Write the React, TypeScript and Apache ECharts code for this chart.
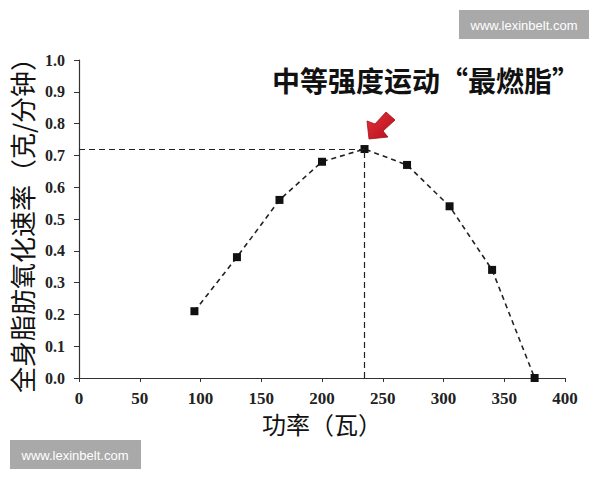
import React, { useEffect, useRef } from "react";
import * as echarts from "echarts";

const powerWatts = [95, 130, 165, 200, 235, 270, 305, 340, 375];
const fatOxidation = [0.21, 0.38, 0.56, 0.68, 0.72, 0.67, 0.54, 0.34, 0.0];
const xTicks = { min: 0, max: 400, interval: 50 };
const yTicks = { min: 0, max: 1, interval: 0.1 };
const titleText = "中等强度运动“最燃脂”";
const xName = "功率（瓦）";
const yName = "全身脂肪氧化速率（克/分钟）";
const watermark = "www.lexinbelt.com";

export default function App() {
  const ref = useRef<HTMLDivElement>(null);
  useEffect(() => {
    if (!ref.current) return;
    const chart = echarts.init(ref.current, undefined, { renderer: "svg" });
    const peakIdx = fatOxidation.indexOf(Math.max(...fatOxidation));
    const peakX = powerWatts[peakIdx];
    const peakY = fatOxidation[peakIdx];
    const serif = "'Liberation Serif', 'Times New Roman', serif";
    const cjk = "'Noto Sans CJK SC', 'Noto Sans', sans-serif";
    chart.setOption({
      animation: false,
      backgroundColor: "#ffffff",
      grid: { left: 77, right: 35, top: 60, bottom: 102 },
      xAxis: {
        type: "value",
        min: xTicks.min,
        max: xTicks.max,
        interval: xTicks.interval,
        name: xName,
        nameLocation: "middle",
        nameGap: 31,
        nameTextStyle: { fontFamily: cjk, fontSize: 24, color: "#111" },
        axisLine: { show: true, onZero: false, lineStyle: { color: "#333", width: 1.2 } },
        axisTick: { show: true, length: 4, lineStyle: { color: "#333" } },
        axisLabel: { margin: 12, fontFamily: serif, fontWeight: "bold", fontSize: 17, color: "#222" },
        splitLine: { show: false },
      },
      yAxis: {
        type: "value",
        min: yTicks.min,
        max: yTicks.max,
        interval: yTicks.interval,
        name: yName,
        nameLocation: "middle",
        nameGap: 45,
        nameRotate: 90,
        nameTextStyle: { fontFamily: cjk, fontSize: 26, color: "#111" },
        axisLine: { show: true, lineStyle: { color: "#333", width: 1.2 } },
        axisTick: { show: true, length: 5, lineStyle: { color: "#333" } },
        axisLabel: {
          margin: 14,
          fontFamily: serif,
          fontWeight: "bold",
          fontSize: 16,
          color: "#222",
          formatter: (v: number) => v.toFixed(1),
        },
        splitLine: { show: false },
      },
      series: [
        {
          type: "line",
          data: powerWatts.map((x, i) => [x, fatOxidation[i]]),
          symbol: "rect",
          symbolSize: 8,
          itemStyle: { color: "#111" },
          lineStyle: { color: "#222", width: 1.6, type: [5, 4] },
          markLine: {
            silent: true,
            symbol: "none",
            label: { show: false },
            lineStyle: { color: "#222", width: 1.2, type: [6, 4] },
            data: [
              [{ coord: [0, peakY] }, { coord: [peakX, peakY] }],
              [{ coord: [peakX, 0] }, { coord: [peakX, peakY] }],
            ],
          },
          z: 3,
        },
      ],
      graphic: [
        {
          type: "text",
          x: 426,
          y: 80,
          style: {
            text: titleText,
            fontFamily: cjk,
            fontWeight: "bold",
            fontSize: 28,
            fill: "#111",
            align: "center",
            verticalAlign: "middle",
          },
        },
        {
          type: "polygon",
          shape: {
            points: [
              [369, 139],
              [367, 121],
              [375, 124],
              [386, 112],
              [395, 120],
              [383, 131],
              [388, 137],
            ],
          },
          style: {
            fill: new echarts.graphic.LinearGradient(0, 0, 1, 1, [
              { offset: 0, color: "#e8303a" },
              { offset: 1, color: "#b0101a" },
            ]),
            stroke: "#a0101a",
            lineWidth: 0.8,
          },
        },
        {
          type: "rect",
          shape: { x: 459, y: 10, width: 130, height: 29 },
          style: { fill: "#a9a9a9" },
        },
        {
          type: "text",
          x: 524,
          y: 25,
          style: {
            text: watermark,
            fontFamily: "'Liberation Sans', Arial, sans-serif",
            fontSize: 13,
            fill: "#ffffff",
            align: "center",
            verticalAlign: "middle",
          },
        },
        {
          type: "rect",
          shape: { x: 10, y: 440, width: 131, height: 29 },
          style: { fill: "#a9a9a9" },
        },
        {
          type: "text",
          x: 75,
          y: 455,
          style: {
            text: watermark,
            fontFamily: "'Liberation Sans', Arial, sans-serif",
            fontSize: 13,
            fill: "#ffffff",
            align: "center",
            verticalAlign: "middle",
          },
        },
      ],
    });
    return () => chart.dispose();
  }, []);
  return (
    <div
      ref={ref}
      style={{ position: "fixed", left: 0, top: 0, width: 600, height: 480, background: "#fff" }}
    />
  );
}
